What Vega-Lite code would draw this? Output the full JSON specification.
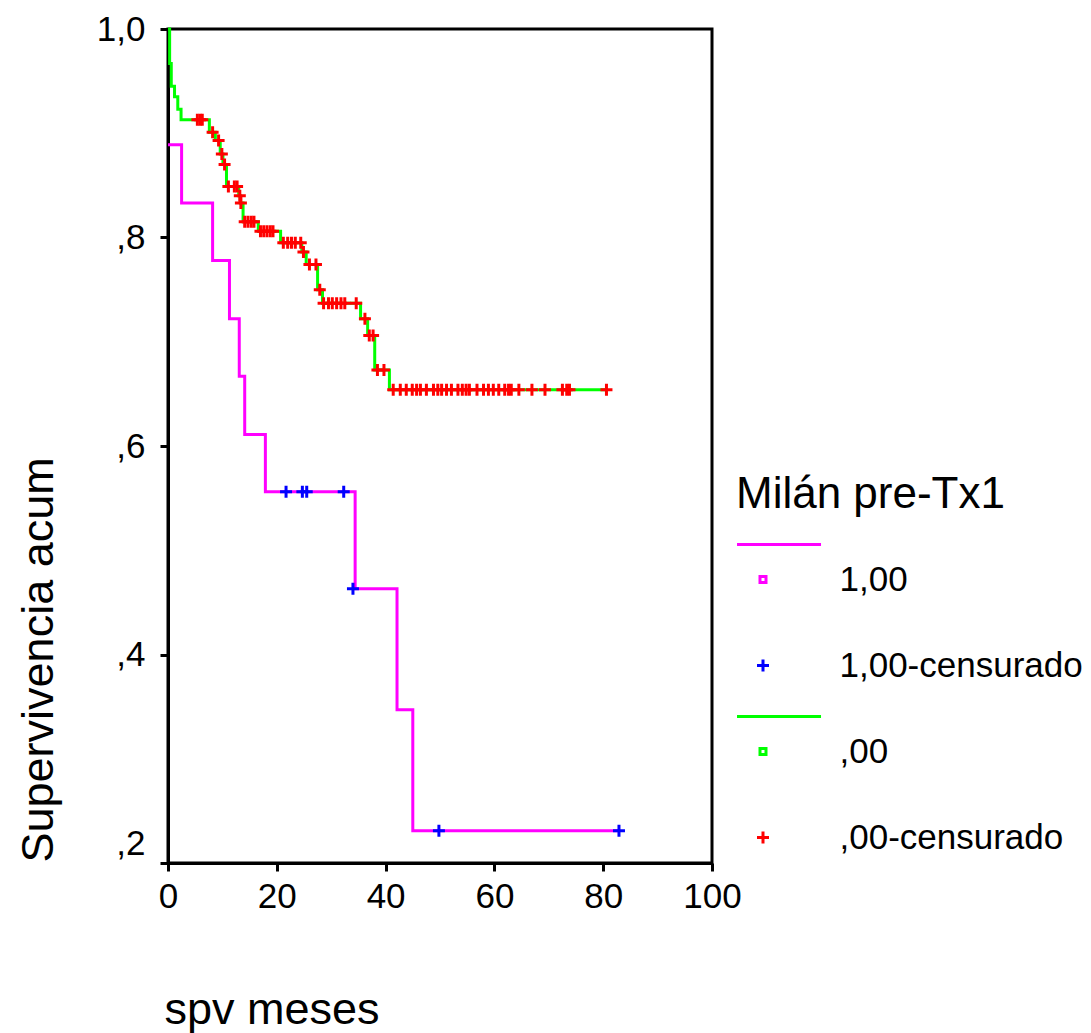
{
  "$schema": "https://vega.github.io/schema/vega-lite/v6.json",
  "autosize": {"type": "none"},
  "padding": {"left": 168, "top": 29, "right": 379, "bottom": 170},
  "width": 544,
  "height": 834,
  "background": "white",
  "datasets": {
    "curvas": [
      {"t": 0, "s": 0.889, "serie": "1,00"},
      {"t": 2.5, "s": 0.833, "serie": "1,00"},
      {"t": 8.2, "s": 0.778, "serie": "1,00"},
      {"t": 11.3, "s": 0.722, "serie": "1,00"},
      {"t": 13.1, "s": 0.667, "serie": "1,00"},
      {"t": 14.1, "s": 0.611, "serie": "1,00"},
      {"t": 17.9, "s": 0.556, "serie": "1,00"},
      {"t": 34.4, "s": 0.463, "serie": "1,00"},
      {"t": 42.1, "s": 0.347, "serie": "1,00"},
      {"t": 45.0, "s": 0.231, "serie": "1,00"},
      {"t": 82.9, "s": 0.231, "serie": "1,00"},
      {"t": 0, "s": 1.0, "serie": ",00"},
      {"t": 0.3, "s": 0.967, "serie": ",00"},
      {"t": 0.6, "s": 0.945, "serie": ",00"},
      {"t": 1.2, "s": 0.935, "serie": ",00"},
      {"t": 1.8, "s": 0.923, "serie": ",00"},
      {"t": 2.4, "s": 0.913, "serie": ",00"},
      {"t": 7.6, "s": 0.901, "serie": ",00"},
      {"t": 8.7, "s": 0.893, "serie": ",00"},
      {"t": 9.6, "s": 0.880, "serie": ",00"},
      {"t": 10.1, "s": 0.870, "serie": ",00"},
      {"t": 10.75, "s": 0.849, "serie": ",00"},
      {"t": 13.0, "s": 0.840, "serie": ",00"},
      {"t": 13.3, "s": 0.833, "serie": ",00"},
      {"t": 13.8, "s": 0.815, "serie": ",00"},
      {"t": 16.6, "s": 0.806, "serie": ",00"},
      {"t": 20.7, "s": 0.795, "serie": ",00"},
      {"t": 24.6, "s": 0.786, "serie": ",00"},
      {"t": 25.4, "s": 0.774, "serie": ",00"},
      {"t": 27.5, "s": 0.750, "serie": ",00"},
      {"t": 28.4, "s": 0.737, "serie": ",00"},
      {"t": 35.4, "s": 0.722, "serie": ",00"},
      {"t": 36.7, "s": 0.706, "serie": ",00"},
      {"t": 38.0, "s": 0.673, "serie": ",00"},
      {"t": 40.7, "s": 0.654, "serie": ",00"},
      {"t": 80.6, "s": 0.654, "serie": ",00"}
    ],
    "censurados": [
      {"t": 21.7, "s": 0.556, "serie": "1,00-censurado"},
      {"t": 24.7, "s": 0.556, "serie": "1,00-censurado"},
      {"t": 25.5, "s": 0.556, "serie": "1,00-censurado"},
      {"t": 32.3, "s": 0.556, "serie": "1,00-censurado"},
      {"t": 34.0, "s": 0.463, "serie": "1,00-censurado"},
      {"t": 49.8, "s": 0.231, "serie": "1,00-censurado"},
      {"t": 82.9, "s": 0.231, "serie": "1,00-censurado"},
      {"t": 5.4, "s": 0.913, "serie": ",00-censurado"},
      {"t": 5.9, "s": 0.913, "serie": ",00-censurado"},
      {"t": 6.3, "s": 0.913, "serie": ",00-censurado"},
      {"t": 8.2, "s": 0.901, "serie": ",00-censurado"},
      {"t": 9.3, "s": 0.893, "serie": ",00-censurado"},
      {"t": 9.9, "s": 0.880, "serie": ",00-censurado"},
      {"t": 10.4, "s": 0.870, "serie": ",00-censurado"},
      {"t": 11.1, "s": 0.849, "serie": ",00-censurado"},
      {"t": 12.2, "s": 0.849, "serie": ",00-censurado"},
      {"t": 12.7, "s": 0.849, "serie": ",00-censurado"},
      {"t": 13.2, "s": 0.840, "serie": ",00-censurado"},
      {"t": 13.4, "s": 0.833, "serie": ",00-censurado"},
      {"t": 14.1, "s": 0.815, "serie": ",00-censurado"},
      {"t": 14.7, "s": 0.815, "serie": ",00-censurado"},
      {"t": 15.3, "s": 0.815, "serie": ",00-censurado"},
      {"t": 15.8, "s": 0.815, "serie": ",00-censurado"},
      {"t": 17.0, "s": 0.806, "serie": ",00-censurado"},
      {"t": 17.6, "s": 0.806, "serie": ",00-censurado"},
      {"t": 18.2, "s": 0.806, "serie": ",00-censurado"},
      {"t": 18.8, "s": 0.806, "serie": ",00-censurado"},
      {"t": 19.3, "s": 0.806, "serie": ",00-censurado"},
      {"t": 21.2, "s": 0.795, "serie": ",00-censurado"},
      {"t": 22.0, "s": 0.795, "serie": ",00-censurado"},
      {"t": 22.7, "s": 0.795, "serie": ",00-censurado"},
      {"t": 23.4, "s": 0.795, "serie": ",00-censurado"},
      {"t": 24.4, "s": 0.795, "serie": ",00-censurado"},
      {"t": 24.9, "s": 0.786, "serie": ",00-censurado"},
      {"t": 26.0, "s": 0.774, "serie": ",00-censurado"},
      {"t": 27.2, "s": 0.774, "serie": ",00-censurado"},
      {"t": 27.9, "s": 0.750, "serie": ",00-censurado"},
      {"t": 28.6, "s": 0.737, "serie": ",00-censurado"},
      {"t": 29.5, "s": 0.737, "serie": ",00-censurado"},
      {"t": 30.2, "s": 0.737, "serie": ",00-censurado"},
      {"t": 31.0, "s": 0.737, "serie": ",00-censurado"},
      {"t": 31.8, "s": 0.737, "serie": ",00-censurado"},
      {"t": 32.5, "s": 0.737, "serie": ",00-censurado"},
      {"t": 34.6, "s": 0.737, "serie": ",00-censurado"},
      {"t": 36.2, "s": 0.722, "serie": ",00-censurado"},
      {"t": 37.0, "s": 0.706, "serie": ",00-censurado"},
      {"t": 37.7, "s": 0.706, "serie": ",00-censurado"},
      {"t": 38.5, "s": 0.673, "serie": ",00-censurado"},
      {"t": 39.7, "s": 0.673, "serie": ",00-censurado"},
      {"t": 41.4, "s": 0.654, "serie": ",00-censurado"},
      {"t": 42.7, "s": 0.654, "serie": ",00-censurado"},
      {"t": 43.8, "s": 0.654, "serie": ",00-censurado"},
      {"t": 44.9, "s": 0.654, "serie": ",00-censurado"},
      {"t": 45.7, "s": 0.654, "serie": ",00-censurado"},
      {"t": 46.4, "s": 0.654, "serie": ",00-censurado"},
      {"t": 47.5, "s": 0.654, "serie": ",00-censurado"},
      {"t": 48.8, "s": 0.654, "serie": ",00-censurado"},
      {"t": 49.6, "s": 0.654, "serie": ",00-censurado"},
      {"t": 50.3, "s": 0.654, "serie": ",00-censurado"},
      {"t": 51.2, "s": 0.654, "serie": ",00-censurado"},
      {"t": 52.1, "s": 0.654, "serie": ",00-censurado"},
      {"t": 53.3, "s": 0.654, "serie": ",00-censurado"},
      {"t": 54.1, "s": 0.654, "serie": ",00-censurado"},
      {"t": 54.8, "s": 0.654, "serie": ",00-censurado"},
      {"t": 55.4, "s": 0.654, "serie": ",00-censurado"},
      {"t": 56.8, "s": 0.654, "serie": ",00-censurado"},
      {"t": 58.0, "s": 0.654, "serie": ",00-censurado"},
      {"t": 58.9, "s": 0.654, "serie": ",00-censurado"},
      {"t": 59.8, "s": 0.654, "serie": ",00-censurado"},
      {"t": 60.8, "s": 0.654, "serie": ",00-censurado"},
      {"t": 61.9, "s": 0.654, "serie": ",00-censurado"},
      {"t": 62.6, "s": 0.654, "serie": ",00-censurado"},
      {"t": 63.1, "s": 0.654, "serie": ",00-censurado"},
      {"t": 64.5, "s": 0.654, "serie": ",00-censurado"},
      {"t": 66.9, "s": 0.654, "serie": ",00-censurado"},
      {"t": 69.3, "s": 0.654, "serie": ",00-censurado"},
      {"t": 72.5, "s": 0.654, "serie": ",00-censurado"},
      {"t": 73.3, "s": 0.654, "serie": ",00-censurado"},
      {"t": 73.8, "s": 0.654, "serie": ",00-censurado"},
      {"t": 80.6, "s": 0.654, "serie": ",00-censurado"}
    ]
  },
  "encoding": {
    "x": {
      "field": "t", "type": "quantitative",
      "scale": {"domain": [0, 100], "nice": false, "zero": false},
      "axis": {
        "title": "spv meses",
        "values": [0, 20, 40, 60, 80, 100],
        "format": "d",
        "labelFlush": false,
        "labelPadding": 8,
        "titleX": -4,
        "titleY": 160,
        "titleAlign": "left",
        "titleBaseline": "alphabetic",
        "titleAnchor": null
      }
    },
    "y": {
      "field": "s", "type": "quantitative",
      "scale": {"domain": [0.2, 1.0], "nice": false, "zero": false},
      "axis": {
        "title": "Supervivencia acum",
        "values": [0.2, 0.4, 0.6, 0.8, 1.0],
        "labelExpr": "datum.value >= 0.99 ? '1,0' : ',' + round(datum.value * 10)",
        "labelFlush": false,
        "labelPadding": 15,
        "labelOffset": {"condition": {"test": "datum.value <= 0.21", "value": -20}, "value": 0},
        "titleAngle": -90,
        "titleX": -116,
        "titleY": 833,
        "titleAlign": "left",
        "titleBaseline": "alphabetic",
        "titleAnchor": null
      }
    },
    "color": {
      "field": "serie", "type": "nominal",
      "scale": {
        "domain": ["1,00", "1,00-censurado", ",00", ",00-censurado"],
        "range": ["#FF00FF", "#0000FF", "#00FF00", "#FF0000"]
      },
      "legend": {
        "title": "Milán pre-Tx1",
        "orient": "none",
        "legendX": 568,
        "legendY": 444,
        "padding": 0,
        "titleLimit": 500,
        "titlePadding": 45,
        "labelLimit": 400,
        "symbolSize": 144,
        "symbolStrokeWidth": 3,
        "symbolOffset": 9.5,
        "labelOffset": 59,
        "rowPadding": 20
      }
    }
  },
  "layer": [
    {
      "data": {"name": "curvas"},
      "mark": {"type": "line", "interpolate": "step-after", "strokeWidth": 3}
    },
    {
      "data": {"name": "censurados"},
      "mark": {"type": "point", "filled": false, "strokeWidth": 3, "size": 144, "opacity": 1},
      "encoding": {
        "shape": {
          "field": "serie", "type": "nominal",
          "scale": {
            "domain": ["1,00", "1,00-censurado", ",00", ",00-censurado"],
            "range": [
              "M-4.33,-5.83L9.67,-5.83M-0.5,-0.5L0.5,-0.5L0.5,0.5L-0.5,0.5ZM0,3",
              "M-1,0L1,0M0,-1L0,1M0,-5.83M0,3",
              "M-4.33,-5.83L9.67,-5.83M-0.5,-0.5L0.5,-0.5L0.5,0.5L-0.5,0.5ZM0,3",
              "M-1,0L1,0M0,-1L0,1M0,-5.83M0,3"
            ]
          },
          "legend": {
            "title": "Milán pre-Tx1",
            "orient": "none",
            "legendX": 568,
            "legendY": 444,
            "padding": 0,
            "titleLimit": 500,
            "titlePadding": 45,
            "labelLimit": 400,
            "symbolSize": 144,
            "symbolStrokeWidth": 3,
            "symbolOffset": 9.5,
            "labelOffset": 59,
            "rowPadding": 20
          }
        }
      }
    }
  ],
  "config": {
    "view": {"stroke": "black", "strokeWidth": 3},
    "axis": {
      "grid": false,
      "domainColor": "black",
      "domainWidth": 3,
      "tickColor": "black",
      "tickWidth": 3,
      "tickSize": 8,
      "labelFont": "Liberation Sans",
      "labelFontSize": 35,
      "labelColor": "black",
      "titleFont": "Liberation Sans",
      "titleFontSize": 45,
      "titleFontWeight": "normal",
      "titleColor": "black"
    },
    "legend": {
      "titleFont": "Liberation Sans",
      "titleFontSize": 44,
      "titleFontWeight": "normal",
      "titleColor": "black",
      "labelFont": "Liberation Sans",
      "labelFontSize": 35,
      "labelColor": "black"
    }
  }
}
